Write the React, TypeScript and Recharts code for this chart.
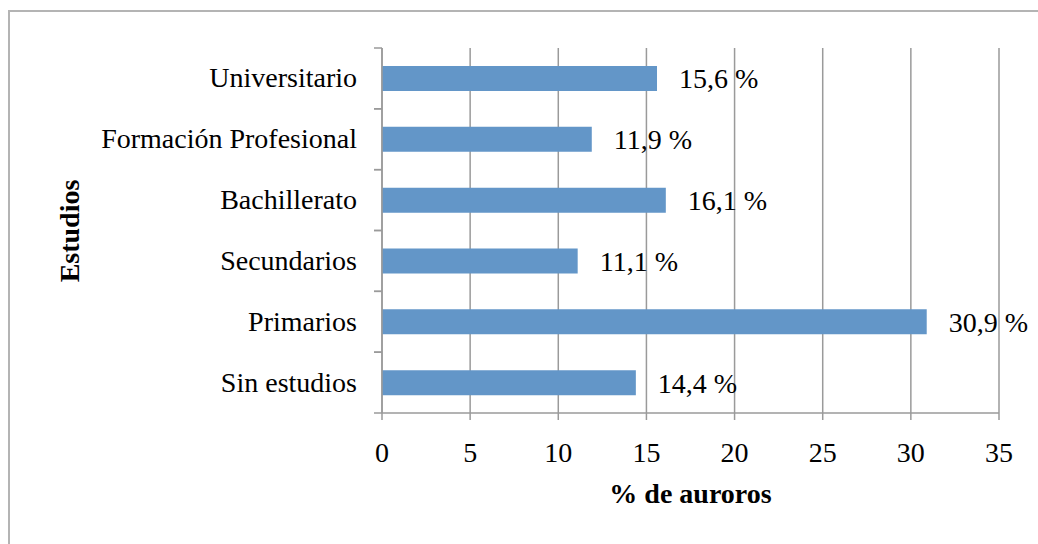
import React from 'react'
import { BarChart, Bar, XAxis, YAxis, CartesianGrid, LabelList, Label } from 'recharts'

const estudios = ['Universitario', 'Formación Profesional', 'Bachillerato', 'Secundarios', 'Primarios', 'Sin estudios']
const porcentajes = [15.6, 11.9, 16.1, 11.1, 30.9, 14.4]
const xTicks = [0, 5, 10, 15, 20, 25, 30, 35]

const data = estudios.map((name, i) => ({ name, value: porcentajes[i] }))

const FONT = '"Liberation Serif", "Times New Roman", serif'
const AXIS_GREY = '#9a9a9a'

// category tick: text plus the Excel-like tick marks on the band edges
const CategoryTick = (props: any) => {
  const { x, y, payload } = props
  const half = payload && payload.offset ? payload.offset : 30.4
  const axisX = x + 25
  return (
    <g>
      <line x1={axisX - 8} x2={axisX} y1={y - half} y2={y - half} stroke={AXIS_GREY} strokeWidth={1.5} />
      <line x1={axisX - 8} x2={axisX} y1={y + half} y2={y + half} stroke={AXIS_GREY} strokeWidth={1.5} />
      <text x={x} y={y} dy={9} textAnchor="end" fill="#000" fontSize={28} fontFamily={FONT}>
        {payload.value}
      </text>
    </g>
  )
}

const fmt = (v: any) => `${String(v).replace('.', ',')} %`

const App: React.FC = () => {
  return (
    <div style={{ position: 'absolute', left: 0, top: 0, width: 1038, height: 544, background: '#fff' }}>
      <div
        style={{
          position: 'absolute',
          left: 8,
          top: 10,
          right: 0,
          bottom: 0,
          borderTop: '2px solid #b4b4b4',
          borderLeft: '2px solid #b4b4b4',
        }}
      />
      <div style={{ position: 'absolute', left: 0, top: 0 }}>
        <BarChart
          width={1038}
          height={544}
          data={data}
          layout="vertical"
          margin={{ top: 48, right: 39, bottom: 31, left: 0 }}
          barSize={25}
          style={{ fontFamily: FONT }}
        >
          <CartesianGrid horizontal={false} stroke={AXIS_GREY} strokeWidth={1.5} />
          <XAxis
            type="number"
            domain={[0, 35]}
            ticks={xTicks}
            interval={0}
            height={100}
            axisLine={{ stroke: AXIS_GREY, strokeWidth: 1.5 }}
            tickLine={{ stroke: AXIS_GREY, strokeWidth: 1.5 }}
            tickSize={7}
            tickMargin={22}
            tick={{ fill: '#000', fontSize: 28, fontFamily: FONT }}
          >
            <Label
              value="% de auroros"
              position="insideBottom"
              offset={10}
              fill="#000"
              fontSize={28}
              fontWeight="bold"
              fontFamily={FONT}
            />
          </XAxis>
          <YAxis
            type="category"
            dataKey="name"
            width={382}
            interval={0}
            axisLine={{ stroke: AXIS_GREY, strokeWidth: 1.5 }}
            tickLine={false}
            tickSize={8}
            tickMargin={17}
            tick={<CategoryTick />}
          >
            <Label
              content={() => (
                <text
                  x={79}
                  y={231}
                  transform="rotate(-90, 79, 231)"
                  textAnchor="middle"
                  fill="#000"
                  fontSize={28}
                  fontWeight="bold"
                  fontFamily={FONT}
                >
                  Estudios
                </text>
              )}
            />
          </YAxis>
          <Bar dataKey="value" fill="#6396c8" isAnimationActive={false}>
            <LabelList
              dataKey="value"
              position="right"
              offset={22}
              formatter={fmt}
              fill="#000"
              fontSize={28}
              fontFamily={FONT}
            />
          </Bar>
        </BarChart>
      </div>
    </div>
  )
}

export default App
